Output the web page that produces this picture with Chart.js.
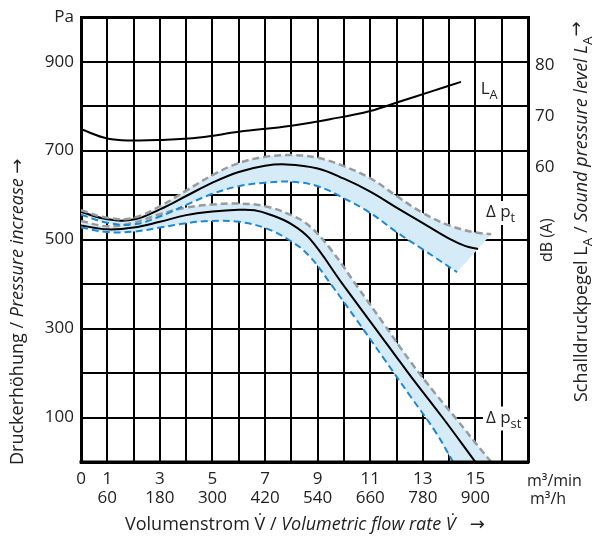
<!DOCTYPE html>
<html>
<head>
<meta charset="utf-8">
<script src="https://cdn.jsdelivr.net/npm/chart.js@4"></script>
<style>
html, body { margin: 0; padding: 0; background: #fff; }
canvas { display: block; }
</style>
</head>
<body>
<canvas id="chart" width="600" height="541"></canvas>
<script>
// ---- data: flow rate in m³/min, pressure in Pa, sound level in dB(A) ----
// total pressure increase (Δp_t)
const ptFlow = [0, 1, 2, 3, 4, 5, 6, 7, 7.8, 9, 10, 11, 12, 13, 14, 14.6, 15.1];
const ptMean = [562, 546, 545, 568, 598, 628, 652, 666, 669, 660, 637, 608, 572, 537, 502, 486, 479];
const ptUpperFlow = [0, 1, 2, 3, 4, 5, 6, 7, 8, 9, 10, 11, 12, 13, 14, 15, 15.6];
const ptUpper = [566, 549, 549, 575, 610, 645, 672, 686, 690, 684, 665, 638, 598, 560, 532, 516, 512];
const ptLowerFlow = [0, 1, 2, 3, 4, 5, 6, 7, 8, 9, 10, 11, 12, 13, 14.3];
const ptLower = [556, 538, 534, 552, 578, 603, 620, 628, 630, 620, 593, 560, 517, 478, 427];

// static pressure increase (Δp_st)
const pstFlow = [0, 1, 2, 3, 4, 5, 6, 6.6, 7.2, 8, 8.7, 9.95, 11.2, 12.45, 13.75, 15.0];
const pstMean = [532, 523, 527, 540, 555, 563, 567, 566, 556, 535, 502, 400, 300, 200, 100, 0];
const pstUpperFlow = [0, 1, 2, 3, 4, 5, 6, 7, 8, 8.7, 9.5, 10.5, 11.5, 12.5, 13.5, 14.3, 15, 15.6];
const pstUpper = [542, 530, 538, 557, 572, 579, 581, 575, 555, 530, 478, 395, 312, 228, 152, 95, 43, 0];
const pstLowerFlow = [0, 1, 2, 3, 4, 5, 6, 7, 8, 8.7, 9.5, 10.5, 11.5, 12.5, 13.5, 14.15];
const pstLower = [527, 517, 518, 527, 537, 542, 540, 526, 496, 462, 400, 318, 234, 150, 66, 0];

// sound pressure level L_A
const laFlow = [0, 1, 2, 3, 4.5, 6, 8, 9.5, 11, 12.1, 13.3, 14.45];
const laLevel = [67.4, 65.6, 65.2, 65.3, 65.8, 66.9, 68.1, 69.4, 71.0, 72.8, 74.8, 76.7];

// tick labels
const flowTicksMin = [0, 1, 3, 5, 7, 9, 11, 13, 15];
const flowTicksHour = ['', '60', '180', '300', '420', '540', '660', '780', '900'];
const pressureTicks = [100, 300, 500, 700, 900];
const levelTicks = [60, 70, 80];

const FONT = '"Open Sans", "Noto Sans", sans-serif';
const ARROW_FONT = '"DejaVu Sans", sans-serif';
const TEXT = '#222';
const FILL = '#d5ebf8';
const GREY = '#9b9b9b';
const BLUE = '#1b8ad6';

function pts(xs, ys) {
    return xs.map((x, i) => ({ x: x, y: ys[i] }));
}

// closed outline of a tolerance band: upper edge forward, lower edge back.
// the turning points are repeated so the spline closes with a straight edge
function band(upX, upY, loX, loY) {
    const upper = pts(upX, upY);
    const lower = pts(loX, loY).reverse();
    return upper.concat([upper[upper.length - 1], lower[0]], lower);
}

function lineSet(data, color, width, dash, axis) {
    return {
        data: data,
        borderColor: color,
        borderWidth: width,
        borderDash: dash,
        fill: false,
        order: 1,
        yAxisID: axis || 'y'
    };
}

function fillSet(data) {
    return {
        data: data,
        borderWidth: 0,
        borderColor: 'rgba(0,0,0,0)',
        backgroundColor: FILL,
        fill: 'shape',
        order: 5
    };
}

// text made of parts: regular / italic / subscript / raised, left to right
function partFont(p, size) {
    const fs = p.sub ? size * 0.75 : size;
    return (p.it ? 'italic ' : '') + fs + 'px ' + (p.f || FONT);
}

function drawParts(ctx, parts, x, y, size) {
    let cx = x;
    parts.forEach(p => {
        ctx.font = partFont(p, size);
        let dy = 0;
        if (p.sub) dy = size * 0.3;
        if (p.up) dy = -size * 0.3;
        ctx.fillText(p.t, cx, y + dy);
        cx += ctx.measureText(p.t).width;
    });
    return cx - x;
}

function measureParts(ctx, parts, size) {
    let w = 0;
    parts.forEach(p => {
        ctx.font = partFont(p, size);
        w += ctx.measureText(p.t).width;
    });
    return w;
}

const textPlugin = {
    id: 'texts',
    afterDatasetsDraw(chart) {
        const ctx = chart.ctx;
        const area = chart.chartArea;
        const x = chart.scales.x, y = chart.scales.y, yR = chart.scales.yR;

        ctx.save();
        // bottom frame line on top of the bands
        ctx.strokeStyle = '#000';
        ctx.lineWidth = 3;
        ctx.beginPath();
        ctx.moveTo(area.left - 1.5, area.bottom);
        ctx.lineTo(area.right + 1.5, area.bottom);
        ctx.stroke();

        ctx.fillStyle = TEXT;
        ctx.textBaseline = 'alphabetic';
        ctx.textAlign = 'left';

        // curve labels
        drawParts(ctx, [{ t: 'L' }, { t: 'A', sub: true }], x.getPixelForValue(15.2), yR.getPixelForValue(75.2) + 4, 17);

        const pt = [{ t: 'Δ p' }, { t: 't', sub: true }];
        const pst = [{ t: 'Δ p' }, { t: 'st', sub: true }];
        [[pt, 562], [pst, 100]].forEach(([parts, val]) => {
            const lx = x.getPixelForValue(15.4);
            const ly = y.getPixelForValue(val);
            const w = measureParts(ctx, parts, 17);
            ctx.fillStyle = '#fff';
            ctx.fillRect(lx - 3, ly - 11, w + 6, 24);
            ctx.fillStyle = TEXT;
            drawParts(ctx, parts, lx, ly + 5, 17);
        });

        // unit labels on the right of the flow axis
        drawParts(ctx, [{ t: 'm³/min' }], area.right - 1, 486, 16);
        drawParts(ctx, [{ t: 'm³/h' }], area.right + 2, 504, 16);

        // x-axis title
        drawParts(ctx, [
            { t: 'Volumenstrom V̇ / ' },
            { t: 'Volumetric flow rate V̇', it: true },
            { t: '   ' },
            { t: '→', f: ARROW_FONT }
        ], 125, 530, 18);

        // left title
        ctx.save();
        ctx.translate(23, 465);
        ctx.rotate(-Math.PI / 2);
        drawParts(ctx, [
            { t: 'Druckerhöhung / ' },
            { t: 'Pressure increase', it: true },
            { t: ' ' },
            { t: '→', f: ARROW_FONT }
        ], 0, 0, 18);
        ctx.restore();

        // right titles
        ctx.save();
        ctx.translate(552, 262);
        ctx.rotate(-Math.PI / 2);
        drawParts(ctx, [{ t: 'dB (A)' }], 0, 0, 16);
        ctx.restore();

        ctx.save();
        ctx.translate(587, 402);
        ctx.rotate(-Math.PI / 2);
        drawParts(ctx, [
            { t: 'Schalldruckpegel L' }, { t: 'A', sub: true },
            { t: ' / ' },
            { t: 'Sound pressure level L', it: true }, { t: 'A', sub: true },
            { t: '→', f: ARROW_FONT, up: true }
        ], 0, 0, 18);
        ctx.restore();

        ctx.restore();
    }
};

new Chart(document.getElementById('chart'), {
    type: 'line',
    data: {
        datasets: [
            fillSet(band(ptUpperFlow, ptUpper, ptLowerFlow, ptLower)),
            fillSet(band(pstUpperFlow, pstUpper, pstLowerFlow, pstLower)),
            lineSet(pts(ptUpperFlow, ptUpper), GREY, 2.5, [7, 4]),
            lineSet(pts(ptLowerFlow, ptLower), BLUE, 2, [7, 4]),
            lineSet(pts(ptFlow, ptMean), '#000', 2, []),
            lineSet(pts(pstUpperFlow, pstUpper), GREY, 2.5, [7, 4]),
            lineSet(pts(pstLowerFlow, pstLower), BLUE, 2, [7, 4]),
            lineSet(pts(pstFlow, pstMean), '#000', 2, []),
            lineSet(pts(laFlow, laLevel), '#000', 2, [], 'yR')
        ]
    },
    options: {
        responsive: false,
        animation: false,
        layout: { padding: { top: 15, left: 0, right: 0, bottom: 0 } },
        plugins: {
            legend: { display: false },
            tooltip: { enabled: false }
        },
        elements: {
            point: { radius: 0 },
            line: { tension: 0.4 }
        },
        scales: {
            x: {
                type: 'linear',
                min: 0,
                max: 17,
                afterFit: s => { s.height = 79; },
                border: { display: true, color: '#000', width: 3 },
                grid: {
                    color: '#000',
                    drawTicks: false,
                    lineWidth: c => (c.tick && c.tick.value === 17 ? 3 : 2)
                },
                ticks: {
                    stepSize: 1,
                    autoSkip: false,
                    maxRotation: 0,
                    padding: 8,
                    color: TEXT,
                    font: { family: FONT, size: 17, lineHeight: 1.1 },
                    callback: v => {
                        const i = flowTicksMin.indexOf(v);
                        return i < 0 ? '' : [String(flowTicksMin[i]), flowTicksHour[i]];
                    }
                }
            },
            y: {
                type: 'linear',
                position: 'left',
                min: 0,
                max: 1000,
                afterFit: s => { s.width = 81; },
                border: { display: true, color: '#000', width: 3 },
                grid: {
                    color: '#000',
                    drawTicks: false,
                    lineWidth: c => (c.tick && c.tick.value === 1000 ? 3 : 2)
                },
                ticks: {
                    stepSize: 100,
                    padding: 7,
                    color: TEXT,
                    font: { family: FONT, size: 17 },
                    callback: v => (v === 1000 ? 'Pa' : (pressureTicks.includes(v) ? String(v) : ''))
                }
            },
            yR: {
                type: 'linear',
                position: 'right',
                min: 2.1,
                max: 89.4,
                afterFit: s => { s.width = 72; },
                afterBuildTicks: s => { s.ticks = levelTicks.map(v => ({ value: v })); },
                border: { display: true, color: '#000', width: 3 },
                grid: { display: false, drawTicks: false },
                ticks: {
                    padding: 7,
                    color: TEXT,
                    font: { family: FONT, size: 17 }
                }
            }
        }
    },
    plugins: [textPlugin]
});
</script>
</body>
</html>
